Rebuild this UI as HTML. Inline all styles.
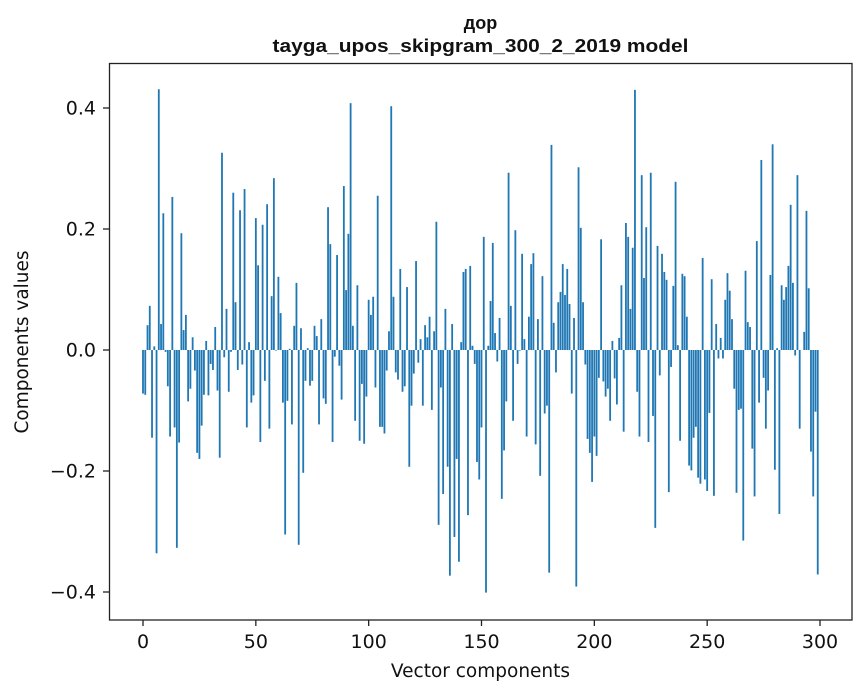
<!DOCTYPE html>
<html><head><meta charset="utf-8"><style>
body{margin:0;background:#fff;}
svg{display:block;font-family:"DejaVu Sans","Liberation Sans",sans-serif;}
</style></head><body>
<svg id="chart" width="867" height="696" viewBox="0 0 867 696">
<rect x="0" y="0" width="867" height="696" fill="#fff"/>
<text x="480.5" y="29" text-anchor="middle" font-size="18" font-weight="bold" fill="#111" style="font-family:'Liberation Sans',sans-serif">дор</text>
<text x="480.5" y="52" text-anchor="middle" font-size="18" font-weight="bold" fill="#111" style="font-family:'Liberation Sans',sans-serif" textLength="416" lengthAdjust="spacingAndGlyphs">tayga_upos_skipgram_300_2_2019 model</text>
<g id="bars"></g>
<g id="xaxis"></g>
<g id="yaxis"></g>
<rect x="109.5" y="63.5" width="742.5" height="556.5" fill="none" stroke="#222" stroke-width="1.3"/>
<text x="480.5" y="677" text-anchor="middle" font-size="18.5" fill="#111">Vector components</text>
<text transform="translate(28,342) rotate(-90)" text-anchor="middle" font-size="18.5" fill="#111">Components values</text>
</svg>
<script>
const values = [-0.072,-0.074,0.041,0.073,-0.145,0.006,-0.336,0.431,0.043,0.226,
-0.003,-0.06,-0.143,0.253,-0.128,-0.327,-0.153,0.193,0.033,0.058,
-0.085,-0.064,0.021,-0.034,-0.17,-0.18,-0.125,-0.074,0.015,-0.075,
-0.023,-0.033,0.038,-0.067,-0.178,0.326,-0.012,0.068,-0.069,-0.003,
0.26,0.079,-0.033,0.231,-0.024,0.266,-0.128,0.013,-0.087,-0.075,
0.218,0.14,-0.152,0.207,-0.051,0.241,-0.13,0.089,0.284,-0.001,
0.121,0.061,-0.087,-0.305,-0.084,0.002,-0.123,0.04,0.111,-0.322,
0.036,-0.203,-0.051,0.003,-0.059,-0.051,0.04,0.023,-0.123,0.051,
-0.08,-0.089,0.236,0.175,-0.152,-0.011,0.157,-0.026,-0.082,0.271,
0.099,0.192,0.408,0.04,-0.117,0.107,-0.15,-0.056,-0.155,-0.077,
0.083,0.058,0.088,-0.062,0.255,-0.127,-0.127,-0.138,-0.034,0.031,
0.403,0.088,-0.037,-0.049,0.134,-0.069,-0.06,0.104,-0.193,-0.092,
-0.039,0.147,-0.021,0.018,-0.092,0.041,0.021,0.055,-0.099,0.031,
0.212,-0.289,-0.062,-0.238,0.068,-0.193,-0.373,0.043,-0.309,-0.18,
-0.35,0.013,0.129,0.134,-0.273,0.139,0.007,-0.023,-0.185,-0.214,
-0.128,0.187,-0.401,0.007,0.081,0.177,0.028,-0.019,0.053,-0.246,
-0.166,-0.085,0.293,0.073,-0.117,0.198,-0.023,-0.001,0.159,0.018,
-0.143,0.055,0.142,0.16,-0.156,0.051,-0.208,0.122,-0.105,-0.092,
-0.368,0.339,0.045,-0.037,0.079,0.096,0.142,0.091,0.134,0.076,
-0.072,0.053,-0.391,0.302,0.202,0.079,-0.024,-0.147,-0.17,-0.218,
-0.143,-0.175,-0.046,0.183,-0.052,-0.077,-0.064,-0.117,0.015,-0.047,
-0.09,0.02,0.107,-0.135,0.21,0.187,0.068,0.169,0.43,-0.069,
-0.143,0.289,0.119,0.203,-0.152,0.293,-0.109,-0.294,0.172,-0.042,
0.159,0.129,0.116,-0.235,-0.028,0.106,0.278,0.008,-0.15,0.126,
0.122,0.055,-0.191,-0.199,-0.145,-0.127,-0.211,-0.221,0.152,-0.214,
-0.233,-0.104,0.117,-0.241,0.043,-0.014,0.02,-0.014,0.083,0.127,
0.098,0.051,-0.064,-0.236,-0.099,-0.097,-0.315,0.131,0.046,0.038,
-0.163,-0.242,0.18,-0.087,0.314,-0.046,-0.13,-0.067,0.124,0.34,
-0.198,0.003,-0.271,0.107,0.083,0.104,0.139,0.24,0.111,-0.009,
0.289,-0.13,0.0,0.03,0.23,0.102,-0.168,-0.242,-0.102,-0.371];
const xTicks = [0,50,100,150,200,250,300];
const yTicks = [-0.4,-0.2,0.0,0.2,0.4];
const yTickLabels = ["\u22120.4","\u22120.2","0.0","0.2","0.4"];

const NS = "http://www.w3.org/2000/svg";
const X0 = 143, XS = 677/300;
const Y0 = 350, YS = 605;
function xPos(v){return X0 + v*XS;}
function yPos(v){return Y0 - v*YS;}
const barW = 0.8*XS;
const gb = document.getElementById('bars');
values.forEach((v,i)=>{
  const r = document.createElementNS(NS,'rect');
  const y1 = yPos(Math.max(v,0)), y2 = yPos(Math.min(v,0));
  r.setAttribute('x', xPos(i)-barW/2);
  r.setAttribute('y', y1);
  r.setAttribute('width', barW);
  r.setAttribute('height', Math.max(y2-y1,0));
  r.setAttribute('fill','#1f77b4');
  
  
  gb.appendChild(r);
});
const gx = document.getElementById('xaxis');
xTicks.forEach(t=>{
  const l = document.createElementNS(NS,'line');
  l.setAttribute('x1',xPos(t));l.setAttribute('x2',xPos(t));
  l.setAttribute('y1',620);l.setAttribute('y2',626);
  l.setAttribute('stroke','#222');l.setAttribute('stroke-width','1.3');
  
  
  gx.appendChild(l);
  const tx = document.createElementNS(NS,'text');
  tx.setAttribute('x',xPos(t));tx.setAttribute('y',648);
  tx.setAttribute('text-anchor','middle');tx.setAttribute('font-size','19');
  tx.setAttribute('fill','#111');
  tx.textContent = t;
  
  
  gx.appendChild(tx);
});
const gy = document.getElementById('yaxis');
yTicks.forEach((t,i)=>{
  const l = document.createElementNS(NS,'line');
  l.setAttribute('x1',103);l.setAttribute('x2',109.5);
  l.setAttribute('y1',yPos(t));l.setAttribute('y2',yPos(t));
  l.setAttribute('stroke','#222');l.setAttribute('stroke-width','1.3');
  
  
  gy.appendChild(l);
  const tx = document.createElementNS(NS,'text');
  tx.setAttribute('x',96);tx.setAttribute('y',yPos(t)+6.5);
  tx.setAttribute('text-anchor','end');tx.setAttribute('font-size','19');
  tx.setAttribute('fill','#111');
  tx.textContent = yTickLabels[i];
  
  
  gy.appendChild(tx);
});
</script>
</body></html>
